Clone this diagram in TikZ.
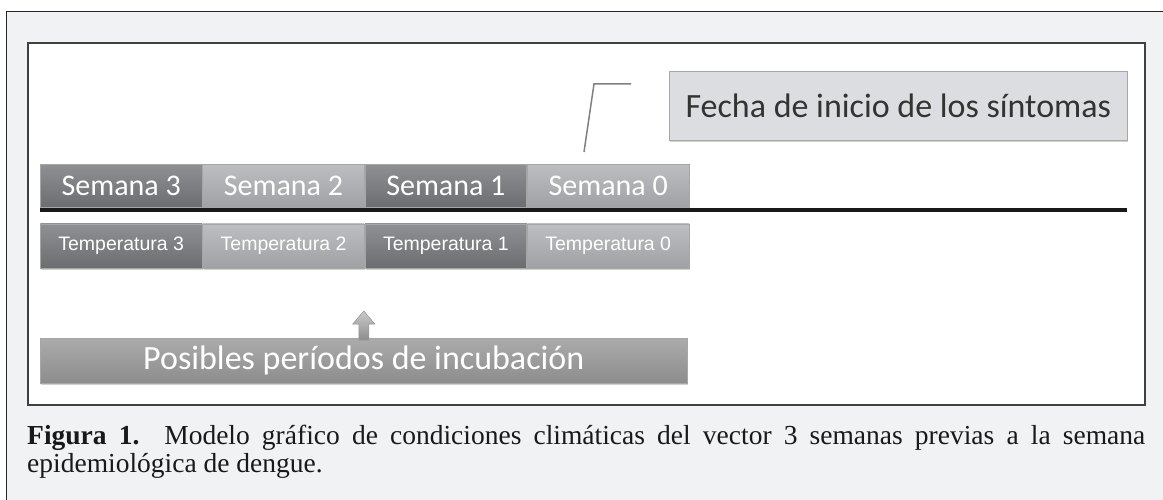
\documentclass[tikz,border=0pt]{standalone}
\usepackage{fontspec}
\setmainfont{Liberation Serif}
\newfontfamily\calibri{Carlito}
\newfontfamily\arial{Liberation Sans}
\usetikzlibrary{positioning,shadows}

\definecolor{pagegray}{HTML}{F1F2F4}
\definecolor{darktop}{HTML}{8F9093}
\definecolor{darkbot}{HTML}{6C6D70}
\definecolor{lighttop}{HTML}{BDBEC1}
\definecolor{lightbot}{HTML}{A0A1A4}
\definecolor{datefill}{HTML}{DCDDE0}
\definecolor{inktext}{HTML}{333333}

\begin{document}
\begin{tikzpicture}[x=1pt, y=-1pt,
    boxbase/.style={inner sep=0pt, draw=black!35, line width=0.6pt,
        drop shadow={shadow xshift=1pt, shadow yshift=-2pt, opacity=0.35}},
    weekbox/.style={boxbase, minimum width=161.75pt, minimum height=43pt,
        text=white, font=\calibri\fontsize{30}{30}\selectfont},
    weekdark/.style={weekbox, top color=darktop, bottom color=darkbot},
    weeklight/.style={weekbox, top color=lighttop, bottom color=lightbot},
    tempbox/.style={boxbase, minimum width=161.75pt, minimum height=44pt,
        text=white, font=\arial\fontsize{19.5}{19.5}\selectfont},
    tempdark/.style={tempbox, top color=darktop, bottom color=darkbot},
    templight/.style={tempbox, top color=lighttop, bottom color=lightbot},
    timeline/.style={line width=4pt, color=black!90},
    bendline/.style={line width=1.5pt, color=black!50},
    arrowfill/.style={top color=lighttop!80, bottom color=black!45, draw=black!40, line width=0.6pt}
]
    \useasboundingbox (0,0) rectangle (1163,500);
    \fill[white] (0,0) rectangle (1163,500);
    \fill[pagegray] (6,12) rectangle (1170,510);
    \draw[black!85, line width=1pt] (6,510) -- (6,12) -- (1170,12);
    \draw[fill=white, draw=black!75, line width=1.2pt] (28,43) rectangle (1145,405);

    % semanas
    \node[weekdark, anchor=north west] (sem3) at (40,164) {Semana 3};
    \node[weeklight, right=0pt of sem3] (sem2) {Semana 2};
    \node[weekdark, right=0pt of sem2] (sem1) {Semana 1};
    \node[weeklight, right=0pt of sem1] (sem0) {Semana 0};

    \coordinate (lnstart) at (40,210);
    \coordinate (lnend) at (1127,210);
    \draw[timeline] (lnstart) -- (lnend);

    % temperaturas
    \node[tempdark, below=16pt of sem3] (temp3) {Temperatura 3};
    \node[templight, right=0pt of temp3] (temp2) {Temperatura 2};
    \node[tempdark, right=0pt of temp2] (temp1) {Temperatura 1};
    \node[templight, right=0pt of temp1] (temp0) {Temperatura 0};

    % fecha de inicio
    \node[boxbase, anchor=north west, fill=datefill, minimum width=458pt, minimum height=69pt,
        text=inktext, font=\calibri\fontsize{34}{34}\selectfont] (fecha) at (669,71)
        {Fecha de inicio de los síntomas};
    \coordinate (bendlow) at (584,152);
    \coordinate (bendtop) at (594,84);
    \coordinate (bendend) at (631,84);
    \draw[bendline] (bendlow) -- (bendtop) -- (bendend);

    % incubacion
    \node[boxbase, anchor=north west, minimum width=647pt, minimum height=45pt,
        top color=black!33, bottom color=black!45, text=white,
        font=\calibri\fontsize{34}{34}\selectfont] (poss) at (40,338)
        {Posibles períodos de incubación};
    \path (poss.north) ++(0,-27) coordinate (arrtip);
    \draw[arrowfill] (arrtip) -- ++(11,13) -- ++(-6,0) -- ++(0,16) -- ++(-10,0)
        -- ++(0,-16) -- ++(-6,0) -- cycle;

    \node[anchor=north west, text width=1118pt, align=justify, inner sep=0pt,
        text=black!90, font=\fontsize{27.5}{28}\selectfont] (caption) at (27,425)
        {\textbf{Figura 1.} Modelo gráfico de condiciones climáticas del vector 3 semanas previas a la semana\linebreak epidemiológica de dengue.};
\end{tikzpicture}
\end{document}
